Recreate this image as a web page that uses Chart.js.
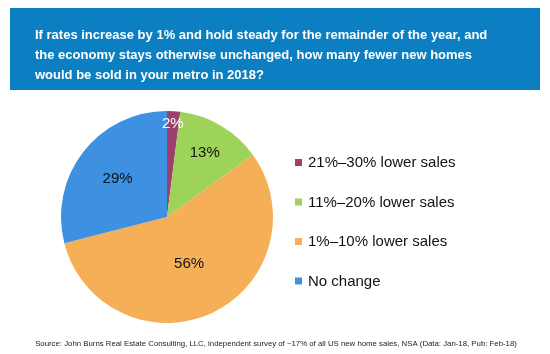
<!DOCTYPE html>
<html>
<head>
<meta charset="utf-8">
<script src="https://cdn.jsdelivr.net/npm/chart.js@4/dist/chart.umd.min.js"></script>
<style>
  html, body { margin: 0; padding: 0; background: #fff; }
  #wrap { position: relative; width: 550px; height: 354px; }
</style>
</head>
<body>
<div id="wrap"><canvas id="chart" width="550" height="354"></canvas></div>
<script>
const titleLines = [
  "If rates increase by 1% and hold steady for the remainder of the year, and",
  "the economy stays otherwise unchanged, how many fewer new homes",
  "would be sold in your metro in 2018?"
];
const sourceText = "Source: John Burns Real Estate Consulting, LLC, independent survey of ~17% of all US new home sales, NSA (Data: Jan-18, Pub: Feb-18)";

const categories = ["21%\u201330% lower sales", "11%\u201320% lower sales", "1%\u201310% lower sales", "No change"];
const shares = [2, 13, 56, 29];
const colors = ["#9E406E", "#9ED35A", "#F5AF57", "#3D91E0"];
const labelColors = ["#fff", "#111", "#111", "#111"];
// how far out (fraction of radius) each slice label sits
const labelRadius = [0.88, 0.7, 0.49, 0.59];

const ctx = document.getElementById("chart").getContext("2d");

// title box, source line and legend drawn straight on the canvas
const decor = {
  id: "decor",
  beforeDraw(chart) {
    const c = chart.ctx;
    c.save();
    c.fillStyle = "#0B7FC1";
    c.fillRect(10, 8, 530, 82);
    c.fillStyle = "#fff";
    c.font = "bold 13px 'Liberation Sans', Arial, sans-serif";
    c.textBaseline = "middle";
    titleLines.forEach((t, i) => c.fillText(t, 35, 35 + i * 20));

    c.fillStyle = "#222";
    c.font = "7.8px 'Liberation Sans', Arial, sans-serif";
    c.textAlign = "center";
    c.fillText(sourceText, 276, 344);
    c.restore();
  },
  afterDraw(chart) {
    const c = chart.ctx;
    c.save();
    c.font = "15px 'Liberation Sans', Arial, sans-serif";
    c.textBaseline = "middle";
    categories.forEach((name, i) => {
      const y = 162 + i * 39.5;
      c.fillStyle = colors[i];
      c.fillRect(295, y - 3, 7, 7);
      c.fillStyle = "#111";
      c.fillText(name, 308, y + 1);
    });

    // slice labels
    const meta = chart.getDatasetMeta(0);
    c.font = "15px 'Liberation Sans', Arial, sans-serif";
    c.textAlign = "center";
    meta.data.forEach((arc, i) => {
      const p = arc.getProps(["x", "y", "startAngle", "endAngle", "outerRadius"], true);
      const mid = (p.startAngle + p.endAngle) / 2;
      const r = p.outerRadius * labelRadius[i];
      c.fillStyle = labelColors[i];
      c.fillText(shares[i] + "%", p.x + Math.cos(mid) * r, p.y + Math.sin(mid) * r);
    });
    c.restore();
  }
};

new Chart(ctx, {
  type: "pie",
  data: {
    labels: categories,
    datasets: [{
      data: shares,
      backgroundColor: colors,
      borderWidth: 0
    }]
  },
  options: {
    responsive: false,
    animation: false,
    layout: { padding: { left: 61, right: 277, top: 111, bottom: 31 } },
    plugins: {
      legend: { display: false },
      tooltip: { enabled: false }
    }
  },
  plugins: [decor]
});
</script>
</body>
</html>
